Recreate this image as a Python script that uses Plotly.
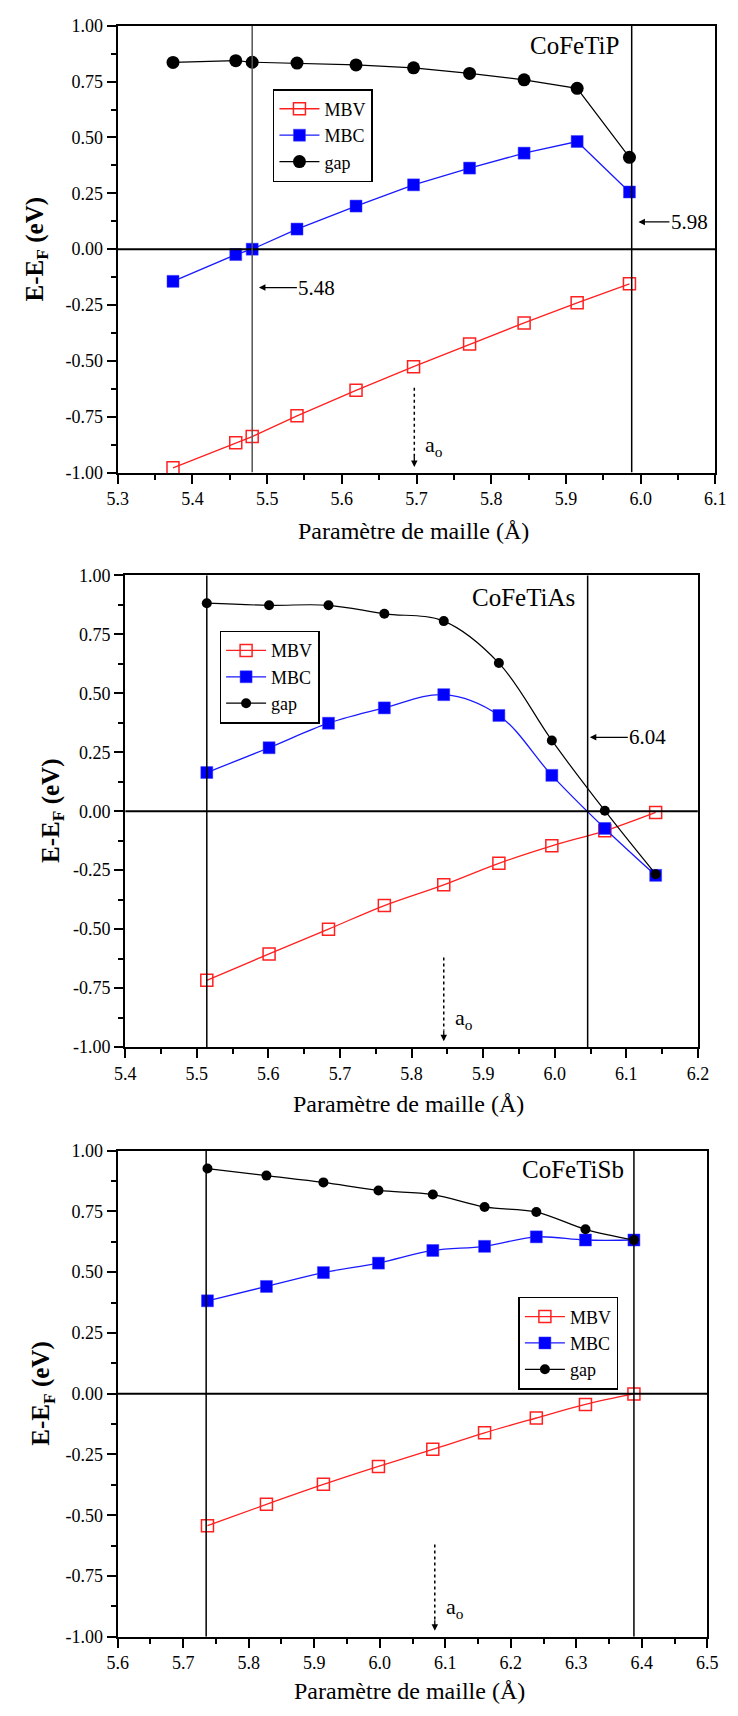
import plotly.graph_objects as go

# ---------------- data ----------------
# Panel 1 : CoFeTiP
p1_x = [5.374, 5.458, 5.480, 5.540, 5.619, 5.696, 5.771, 5.844, 5.915, 5.985]
p1_mbv = [-0.979, -0.867, -0.839, -0.746, -0.632, -0.526, -0.425, -0.330, -0.240, -0.155]
p1_mbc = [-0.144, -0.024, 0.000, 0.090, 0.193, 0.288, 0.363, 0.430, 0.482, 0.256]
p1_gap = [0.836, 0.844, 0.837, 0.833, 0.825, 0.812, 0.787, 0.758, 0.720, 0.411]

# Panel 2 : CoFeTiAs
p2_x = [5.514, 5.601, 5.684, 5.762, 5.845, 5.922, 5.996, 6.070, 6.141]
p2_mbv = [-0.717, -0.605, -0.500, -0.400, -0.312, -0.221, -0.147, -0.083, -0.005]
p2_mbc = [0.164, 0.269, 0.373, 0.438, 0.494, 0.406, 0.152, -0.073, -0.272]
p2_gap = [0.882, 0.873, 0.873, 0.837, 0.806, 0.628, 0.300, 0.002, -0.267]

# Panel 3 : CoFeTiSb
p3_x = [5.737, 5.827, 5.914, 5.998, 6.081, 6.160, 6.239, 6.314, 6.388]
p3_mbv = [-0.543, -0.455, -0.373, -0.299, -0.229, -0.161, -0.100, -0.044, -0.001]
p3_mbc = [0.382, 0.441, 0.498, 0.537, 0.589, 0.606, 0.645, 0.632, 0.632]
p3_gap = [0.926, 0.897, 0.869, 0.836, 0.819, 0.768, 0.747, 0.676, 0.632]

series_names = ["MBV", "MBC", "gap"]
compounds = ["CoFeTiP", "CoFeTiAs", "CoFeTiSb"]
compound_pos = [(5.974, 0.91), (6.031, 0.907), (6.376, 0.923)]
x_ranges = [[5.3, 6.1], [5.4, 6.2], [5.6, 6.5]]
x_tick0 = [5.3, 5.4, 5.6]
y_tickvals = [-1.0, -0.75, -0.5, -0.25, 0.0, 0.25, 0.5, 0.75, 1.0]
y_ticktext = ["-1.00", "-0.75", "-0.50", "-0.25", "0.00", "0.25", "0.50", "0.75", "1.00"]
vlines = [[5.480, 5.988], [5.514, 6.046], [5.735, 6.388]]
a0_pos = [5.697, 5.845, 6.084]
marked_labels = [["5.48", "5.98"], ["6.04"]]

W, H = 738, 1716
# pixel boxes of each plot area (left, right, top, bottom)
boxes = [(110, 726, 16, 468), (117.7, 708, 572, 1049.3), (110, 717.7, 1154, 1646)]

FONT = "Liberation Serif"
fig = go.Figure()

panels = [
    (p1_x, p1_mbv, p1_mbc, p1_gap, "linear", 13, 12),
    (p2_x, p2_mbv, p2_mbc, p2_gap, "spline", 10, 12),
    (p3_x, p3_mbv, p3_mbc, p3_gap, "spline", 10, 12),
]
legend_pos = [(270, 80), (215, 628), (523, 1302)]

for i, (xs, mbv, mbc, gap, shape, csize, ssize) in enumerate(panels):
    k = "" if i == 0 else str(i + 1)
    xa, ya = "x" + k, "y" + k
    lg = "legend" + k
    fig.add_trace(go.Scatter(x=xs, y=mbv, name=series_names[0], mode="lines+markers",
                             line=dict(color="#ff2020", width=1.3, shape=shape),
                             marker=dict(symbol="square-open", size=ssize, color="#ff2020",
                                         line=dict(width=1.5, color="#ff2020")),
                             xaxis=xa, yaxis=ya, legend=lg, cliponaxis=False))
    fig.add_trace(go.Scatter(x=xs, y=mbc, name=series_names[1], mode="lines+markers",
                             line=dict(color="#1a1aff", width=1.3, shape=shape),
                             marker=dict(symbol="square", size=ssize, color="#0000ff",
                                         line=dict(width=0.5, color="#4040ff")),
                             xaxis=xa, yaxis=ya, legend=lg, cliponaxis=False))
    fig.add_trace(go.Scatter(x=xs, y=gap, name=series_names[2], mode="lines+markers",
                             line=dict(color="black", width=1.2, shape=shape),
                             marker=dict(symbol="circle", size=csize, color="black"),
                             xaxis=xa, yaxis=ya, legend=lg, cliponaxis=False))

    l, r, t, b = boxes[i]
    axis_common = dict(showline=True, linecolor="black", linewidth=2, mirror=True,
                       ticks="outside", ticklen=9, tickwidth=2, tickcolor="black",
                       showgrid=False, zeroline=False,
                       tickfont=dict(family=FONT, size=18, color="black"))
    fig.update_layout(**{
        "xaxis" + k: dict(domain=[l / W, r / W], range=x_ranges[i], tick0=x_tick0[i], dtick=0.1,
                          tickformat=".1f", anchor=ya,
                          minor=dict(ticks="outside", dtick=0.05, tick0=x_tick0[i], ticklen=5,
                                     tickwidth=1.5, tickcolor="black"),
                          **axis_common),
        "yaxis" + k: dict(domain=[(H - b) / H, (H - t) / H], range=[-1, 1],
                          tickmode="array", tickvals=y_tickvals, ticktext=y_ticktext,
                          anchor=xa,
                          minor=dict(ticks="outside", dtick=0.125, tick0=-1, ticklen=5,
                                     tickwidth=1.5, tickcolor="black"),
                          **axis_common),
        lg: dict(x=legend_pos[i][0] / W, y=(H - legend_pos[i][1]) / H, xanchor="left", yanchor="top",
                 bordercolor="black", borderwidth=1.5, bgcolor="white",
                 font=dict(family=FONT, size=18, color="black"), itemwidth=40,
                 tracegroupgap=0),
    })

    # zero line
    fig.add_shape(type="line", xref=xa, yref=ya, x0=x_ranges[i][0], x1=x_ranges[i][1], y0=0, y1=0,
                  line=dict(color="black", width=2))
    # vertical lines
    for j, v in enumerate(vlines[i]):
        col = "#555555" if (i == 0 and j == 0) else "black"
        fig.add_shape(type="line", xref=xa, yref=ya, x0=v, x1=v, y0=-1, y1=1,
                      line=dict(color=col, width=1.5))
    # dotted a0 arrow
    fig.add_shape(type="line", xref=xa, yref=ya, x0=a0_pos[i], x1=a0_pos[i], y0=-0.62, y1=-0.93,
                  line=dict(color="black", width=1.5, dash="dot"))
    fig.add_annotation(x=a0_pos[i], y=-0.975, xref=xa, yref=ya, text="", showarrow=True,
                       ax=0, ay=-12, arrowhead=2, arrowsize=1, arrowwidth=1.3, arrowcolor="black")
    fig.add_annotation(x=a0_pos[i], y=-0.88, xref=xa, yref=ya, text="a<sub>o</sub>",
                       showarrow=False, xanchor="left", yanchor="middle", xshift=9,
                       font=dict(family=FONT, size=22, color="black"))
    # compound label
    fig.add_annotation(x=compound_pos[i][0], y=compound_pos[i][1], xref=xa, yref=ya,
                       text=compounds[i], showarrow=False, xanchor="right", yanchor="middle",
                       font=dict(family=FONT, size=25, color="black"))
    # axis titles
    xtitle_y = [527, 1107, 1701][i]
    fig.add_annotation(x=((l + r) / 2 - 3) / W, y=(H - xtitle_y) / H, xref="paper", yref="paper",
                       text="Paramètre de maille (Å)", showarrow=False,
                       xanchor="center", yanchor="middle",
                       font=dict(family=FONT, size=24, color="black"))
    ytx = [26, 42, 33][i]
    fig.add_annotation(x=ytx / W, y=(H - (t + b) / 2) / H, xref="paper", yref="paper",
                       text="<b>E-E<sub>F</sub> (eV)</b>", showarrow=False, textangle=-90,
                       xanchor="center", yanchor="middle",
                       font=dict(family=FONT, size=25, color="black"))

# labelled arrows
arrow_specs = [
    ("x", "y", 5.489, -0.172, marked_labels[0][0], 58),
    ("x", "y", 5.997, 0.122, marked_labels[0][1], 51),
    ("x2", "y2", 6.049, 0.313, marked_labels[1][0], 58),
]
for xa, ya, xv, yv, txt, ax in arrow_specs:
    fig.add_annotation(x=xv, y=yv, xref=xa, yref=ya, text=txt, showarrow=True,
                       ax=ax, ay=0, arrowhead=2, arrowsize=1, arrowwidth=1.3, arrowcolor="black",
                       font=dict(family=FONT, size=21, color="black"))

fig.update_layout(width=W, height=H, margin=dict(l=0, r=0, t=0, b=0),
                  paper_bgcolor="white", plot_bgcolor="white",
                  font=dict(family=FONT, color="black"))

fig.write_html("out.html")
